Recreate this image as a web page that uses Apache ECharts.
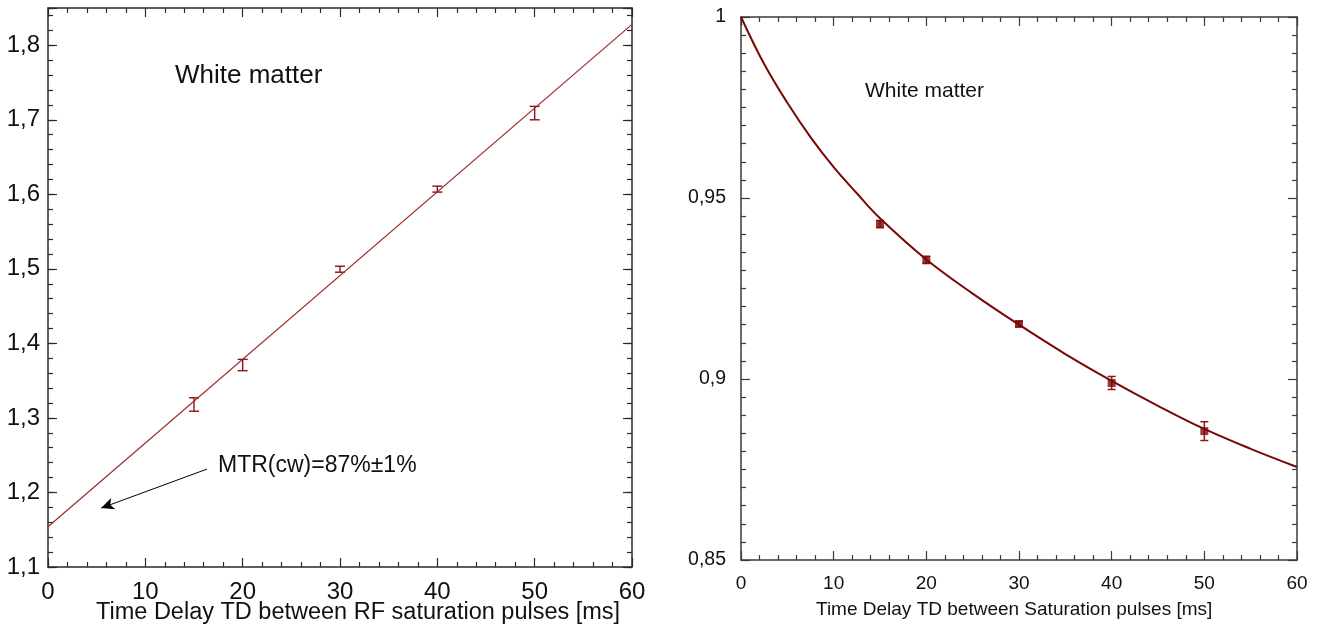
<!DOCTYPE html>
<html>
<head>
<meta charset="utf-8">
<title>MTR vs time delay</title>
<script src="https://cdn.jsdelivr.net/npm/echarts@6/dist/echarts.min.js"></script>
<style>
  html, body { margin: 0; padding: 0; background: #ffffff; }
  #chart { width: 1317px; height: 628px; }
</style>
</head>
<body>
<div id="chart"></div>
<script>
// ---- Left panel: ratio vs. time delay with linear fit ----
const leftTD = [15, 20, 30, 40, 50];
const leftRatio = [1.318, 1.371, 1.4995, 1.607, 1.709];
const leftErr = [0.009, 0.0076, 0.004, 0.004, 0.009];
const leftFitTD = [0, 60];
const leftFitRatio = [1.154, 1.828];
// arrow for the MTR annotation (data units): from -> to
const arrowFrom = [16.34, 1.2314];
const arrowTo = [5.45, 1.179];

// ---- Right panel: normalized signal vs. time delay with fitted curve ----
const rightTD = [15, 20, 30, 40, 50];
const rightSignal = [0.9428, 0.9329, 0.9152, 0.8989, 0.8856];
const rightErr = [0.001, 0.001, 0.0007, 0.0018, 0.0026];
const rightCurveTD = [0, 2.5, 5, 7.5, 10, 12.5, 15, 20, 25, 30, 35, 40, 45, 50, 55, 60];
const rightCurveSignal = [1.0, 0.9870, 0.9763, 0.9668, 0.9585, 0.9513, 0.9444, 0.9330, 0.9236, 0.9150, 0.9069, 0.8995, 0.8926, 0.8862, 0.8807, 0.8757];

// tick labels
const leftXTicks = [0, 10, 20, 30, 40, 50, 60];
const leftYTicks = [1.1, 1.2, 1.3, 1.4, 1.5, 1.6, 1.7, 1.8];
const rightYTicks = [0.85, 0.9, 0.95, 1];

const FONT = 'Liberation Sans, Arial, Helvetica, sans-serif';
const FIT_RED = '#9c2a2a';
const DARK_RED = '#7a0606';

const comma = v => String(+(+v).toFixed(3)).replace('.', ',');
const inList = (list, v) => list.some(t => Math.abs(t - v) < 1e-6);

function pairs(xs, ys) { return xs.map((x, i) => [x, ys[i]]); }
function errRows(xs, ys, es) { return xs.map((x, i) => [x, ys[i] - es[i], ys[i] + es[i]]); }

function errBarRenderer(capHalf, color, width) {
  return function (params, api) {
    const x = api.value(0);
    const lo = api.coord([x, api.value(1)]);
    const hi = api.coord([x, api.value(2)]);
    const st = { stroke: color, lineWidth: width };
    return {
      type: 'group',
      children: [
        { type: 'line', shape: { x1: lo[0], y1: lo[1], x2: hi[0], y2: hi[1] }, style: st },
        { type: 'line', shape: { x1: lo[0] - capHalf, y1: lo[1], x2: lo[0] + capHalf, y2: lo[1] }, style: st },
        { type: 'line', shape: { x1: hi[0] - capHalf, y1: hi[1], x2: hi[0] + capHalf, y2: hi[1] }, style: st }
      ]
    };
  };
}

function axisBase(opts) {
  return Object.assign({
    type: 'value',
    axisLine: { show: true, onZero: false, lineStyle: { color: opts.lineColor, width: opts.lineWidth } },
    axisTick: { show: true, inside: true, length: 9, lineStyle: { color: opts.lineColor, width: 1.2 } },
    minorTick: { show: false },
    splitLine: { show: false },
    axisLabel: { show: false }
  }, opts.extra);
}

const L = { lineColor: '#2a2a2a', lineWidth: 1.5 };
const R = { lineColor: '#3a3a3a', lineWidth: 1.5 };
const minorX = c => ({ show: true, splitNumber: 5, length: 5, lineStyle: { color: c, width: 1.2 } });

const xAxes = [
  // left panel bottom
  axisBase(Object.assign({}, L, { extra: {
    gridIndex: 0, position: 'bottom', min: 0, max: 60, interval: 10,
    minorTick: minorX(L.lineColor),
    axisLabel: { show: true, margin: 13, fontSize: 24, fontFamily: FONT, color: '#111',
      formatter: v => inList(leftXTicks, v) ? String(v) : '' }
  } })),
  // left panel top mirror
  axisBase(Object.assign({}, L, { extra: {
    gridIndex: 0, position: 'top', min: 0, max: 60, interval: 10, minorTick: minorX(L.lineColor)
  } })),
  // right panel bottom
  axisBase(Object.assign({}, R, { extra: {
    gridIndex: 1, position: 'bottom', min: 0, max: 60, interval: 10,
    minorTick: minorX(R.lineColor),
    axisLabel: { show: true, margin: 14, fontSize: 19, fontFamily: FONT, color: '#111' }
  } })),
  // right panel top mirror
  axisBase(Object.assign({}, R, { extra: {
    gridIndex: 1, position: 'top', min: 0, max: 60, interval: 10, minorTick: minorX(R.lineColor)
  } })),
  // helper grid over the left panel (carries the fine y ticks only)
  { type: 'value', gridIndex: 2, min: 0, max: 60, show: false }
];

const minorOnly = (gridIndex, position, min, max, interval, color) => ({
  type: 'value', gridIndex, position, min, max, interval,
  axisLine: { show: false, onZero: false },
  axisTick: { show: true, inside: true, length: 5, lineStyle: { color, width: 1.2 } },
  axisLabel: { show: false },
  splitLine: { show: false }
});

const yAxes = [
  // left panel, left side (major ticks + labels)
  axisBase(Object.assign({}, L, { extra: {
    gridIndex: 0, position: 'left', min: 1.1, max: 1.85, interval: 0.1,
    axisLabel: { show: true, margin: 8, fontSize: 24, fontFamily: FONT, color: '#111',
      formatter: v => inList(leftYTicks, v) ? comma(v) : '' }
  } })),
  // left panel, right mirror
  axisBase(Object.assign({}, L, { extra: { gridIndex: 0, position: 'right', min: 1.1, max: 1.85, interval: 0.1 } })),
  // right panel, left side
  axisBase(Object.assign({}, R, { extra: {
    gridIndex: 1, position: 'left', min: 0.85, max: 1, interval: 0.05,
    minorTick: { show: true, splitNumber: 10, length: 5, lineStyle: { color: R.lineColor, width: 1.2 } },
    axisLabel: { show: true, margin: 15, fontSize: 19.5, fontFamily: FONT, color: '#111',
      formatter: v => inList(rightYTicks, v) ? comma(v) : '' }
  } })),
  // right panel, right mirror
  axisBase(Object.assign({}, R, { extra: {
    gridIndex: 1, position: 'right', min: 0.85, max: 1, interval: 0.05,
    minorTick: { show: true, splitNumber: 10, length: 5, lineStyle: { color: R.lineColor, width: 1.2 } }
  } })),
  // fine ticks (every 0.02) for the left panel, both sides
  minorOnly(2, 'left', 1.1, 1.85, 0.02, L.lineColor),
  minorOnly(2, 'right', 1.1, 1.85, 0.02, L.lineColor)
];

const chart = echarts.init(document.getElementById('chart'), null, { renderer: 'canvas' });

chart.setOption({
  animation: false,
  backgroundColor: '#ffffff',
  grid: [
    { left: 48, top: 8, width: 584, height: 559 },
    { left: 741, top: 17, width: 556, height: 543 },
    { left: 48, top: 8, width: 584, height: 559 }
  ],
  xAxis: xAxes,
  yAxis: yAxes,
  graphic: [
    { type: 'text', left: 175, top: 63, style: { text: 'White matter', fontSize: 26, fontFamily: FONT, fill: '#111' } },
    { type: 'text', left: 218, top: 454, style: { text: 'MTR(cw)=87%±1%', fontSize: 23, fontFamily: FONT, fill: '#111' } },
    { type: 'text', left: 96, top: 601, style: { text: 'Time Delay TD between RF saturation pulses [ms]', fontSize: 23.5, fontFamily: FONT, fill: '#111' } },
    { type: 'text', left: 865, top: 81, style: { text: 'White matter', fontSize: 21, fontFamily: FONT, fill: '#111' } },
    { type: 'text', left: 816, top: 600, style: { text: 'Time Delay TD between Saturation pulses [ms]', fontSize: 19, fontFamily: FONT, fill: '#111' } }
  ],
  series: [
    {
      name: 'linear fit', type: 'line', xAxisIndex: 0, yAxisIndex: 0,
      data: pairs(leftFitTD, leftFitRatio), showSymbol: false, silent: true,
      lineStyle: { color: FIT_RED, width: 1.2 },
      markLine: {
        silent: true, symbol: ['none', 'arrow'], symbolSize: [9, 13],
        label: { show: false },
        lineStyle: { color: '#000', width: 1, type: 'solid' },
        data: [[{ coord: arrowFrom }, { coord: arrowTo }]]
      }
    },
    {
      name: 'ratio', type: 'custom', xAxisIndex: 0, yAxisIndex: 0,
      data: errRows(leftTD, leftRatio, leftErr),
      encode: { x: 0, y: [1, 2] },
      renderItem: errBarRenderer(5, '#8b1212', 1.4)
    },
    {
      name: 'fitted signal', type: 'line', xAxisIndex: 2, yAxisIndex: 2,
      data: pairs(rightCurveTD, rightCurveSignal), smooth: 0.4, showSymbol: false, silent: true,
      lineStyle: { color: DARK_RED, width: 2 }
    },
    {
      name: 'signal err', type: 'custom', xAxisIndex: 2, yAxisIndex: 2,
      data: errRows(rightTD, rightSignal, rightErr),
      encode: { x: 0, y: [1, 2] },
      renderItem: errBarRenderer(4, '#8b1a1a', 1.5)
    },
    {
      name: 'signal', type: 'scatter', xAxisIndex: 2, yAxisIndex: 2,
      data: pairs(rightTD, rightSignal), symbol: 'rect', symbolSize: 8,
      itemStyle: { color: DARK_RED }
    }
  ]
});
</script>
</body>
</html>
